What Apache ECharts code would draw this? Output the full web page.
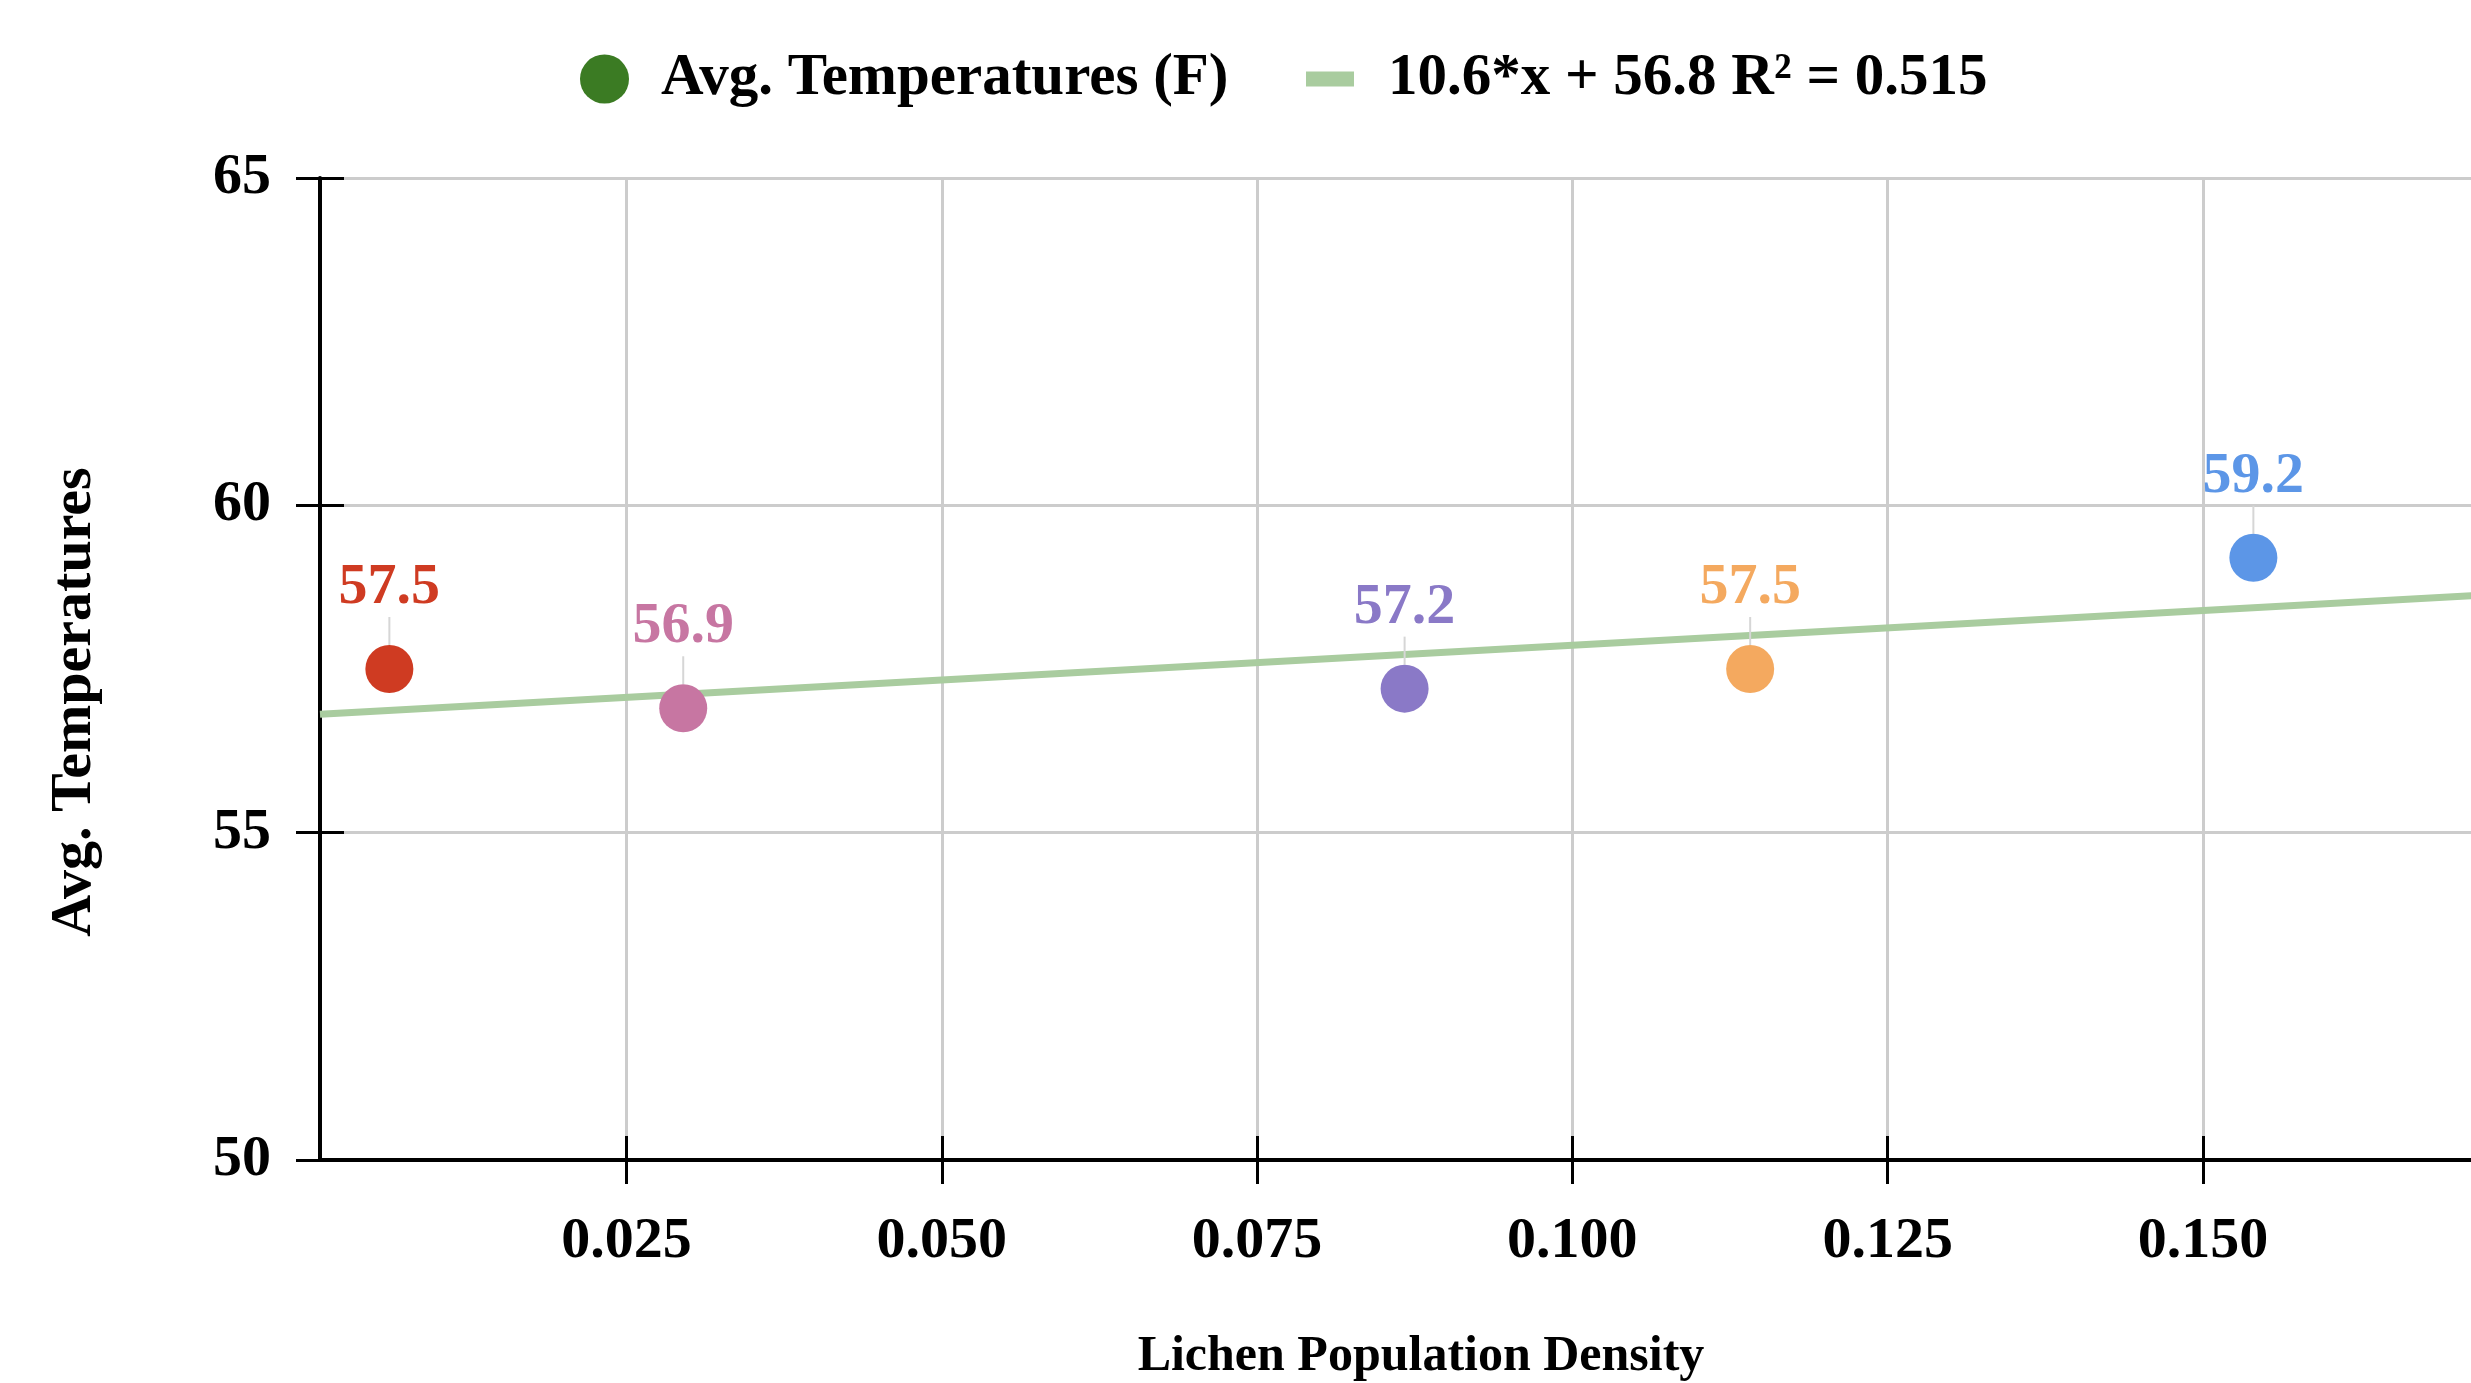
<!DOCTYPE html>
<html>
<head>
<meta charset="utf-8">
<title>Lichen density vs temperature</title>
<script src="https://cdn.jsdelivr.net/npm/echarts@6/dist/echarts.min.js"></script>
<style>
  html, body { margin: 0; padding: 0; background: #fff; }
  #main { width: 2471px; height: 1383px; }
</style>
</head>
<body>
<div id="main"></div>
<script>
// data
var densities = [0.0062, 0.0295, 0.0867, 0.1141, 0.1540];
var temps = [57.5, 56.9, 57.2, 57.5, 59.2];
var trendX = [0.0007, 0.1753];
var trendY = [56.81, 58.66];
var xTicks = [0.025, 0.050, 0.075, 0.100, 0.125, 0.150];

var pointColors = ['#cf3b22', '#c776a2', '#8a79c7', '#f4a95f', '#5c96e7'];
var serif = 'Liberation Serif';
var xMin = 0.0007, xMax = 0.1753;

var myChart = echarts.init(document.getElementById('main'));

var scatterData = densities.map(function (d, i) {
    return {
        value: [d, temps[i]],
        itemStyle: { color: pointColors[i] },
        label: { color: pointColors[i] }
    };
});

var tickLabelStyle = {
    fontFamily: serif,
    fontWeight: 'bold',
    fontSize: 58,
    color: '#000'
};

option = {
    animation: false,
    backgroundColor: '#fff',
    legend: [
        {
            left: 575,
            top: 44,
            itemWidth: 49,
            itemHeight: 49,
            icon: 'circle',
            selectedMode: false,
            data: ['Avg. Temperatures (F)'],
            textStyle: {
                fontFamily: serif, fontWeight: 'bold', fontSize: 59,
                lineHeight: 60, color: '#000', padding: [0, 0, 0, 27]
            }
        },
        {
            left: 1301,
            top: 44,
            itemWidth: 48,
            itemHeight: 15,
            icon: 'rect',
            selectedMode: false,
            data: ['10.6*x + 56.8 R\u00b2 = 0.515'],
            textStyle: {
                fontFamily: serif, fontWeight: 'bold', fontSize: 59,
                lineHeight: 60, color: '#000', padding: [0, 0, 0, 29]
            }
        }
    ],
    grid: {
        left: 320,
        top: 178,
        bottom: 223,
        right: -51,
        outerBoundsMode: 'none'
    },
    xAxis: [
        {
            type: 'value',
            min: xMin,
            max: xMax,
            name: 'Lichen Population Density',
            nameLocation: 'middle',
            nameGap: 172,
            nameTextStyle: { fontFamily: serif, fontWeight: 'bold', fontSize: 50, color: '#000' },
            axisLine: { show: true, lineStyle: { color: '#000', width: 4 } },
            axisTick: { show: true, length: 24, lineStyle: { color: '#000', width: 3 }, customValues: xTicks },
            axisLabel: Object.assign({
                margin: 53,
                customValues: xTicks,
                formatter: function (v) { return v.toFixed(3); }
            }, tickLabelStyle),
            splitLine: { show: true, lineStyle: { color: '#cccccc', width: 3 } }
        },
        {
            // second copy only to draw the inner half of the ticks
            type: 'value',
            position: 'bottom',
            offset: 0,
            min: xMin,
            max: xMax,
            axisLine: { show: false },
            axisTick: { show: true, inside: true, length: 24, lineStyle: { color: '#000', width: 3 }, customValues: xTicks },
            axisLabel: { show: false },
            splitLine: { show: false }
        }
    ],
    yAxis: [
        {
            type: 'value',
            min: 50,
            max: 65,
            interval: 5,
            name: 'Avg. Temperatures',
            nameLocation: 'middle',
            nameGap: 216,
            nameTextStyle: {
                fontFamily: serif, fontWeight: 'bold', fontSize: 58, color: '#000',
                padding: [0, 66, 0, 0]
            },
            axisLine: { show: true, lineStyle: { color: '#000', width: 4 } },
            axisTick: { show: true, length: 24, lineStyle: { color: '#000', width: 3 } },
            axisLabel: Object.assign({ margin: 49 }, tickLabelStyle),
            splitLine: { show: true, lineStyle: { color: '#cccccc', width: 3 } }
        },
        {
            type: 'value',
            position: 'left',
            offset: 0,
            min: 50,
            max: 65,
            interval: 5,
            axisLine: { show: false },
            axisTick: { show: true, inside: true, length: 24, lineStyle: { color: '#000', width: 3 } },
            axisLabel: { show: false },
            splitLine: { show: false }
        }
    ],
    series: [
        {
            name: '10.6*x + 56.8 R\u00b2 = 0.515',
            type: 'line',
            symbol: 'none',
            z: 2,
            itemStyle: { color: '#a9cc9f' },
            lineStyle: { color: '#a9cc9f', width: 7 },
            data: trendX.map(function (x, i) { return [x, trendY[i]]; })
        },
        {
            name: 'Avg. Temperatures (F)',
            type: 'scatter',
            symbol: 'circle',
            symbolSize: 48,
            z: 3,
            itemStyle: { color: '#3b7b23', opacity: 1 },
            label: {
                show: true,
                position: 'top',
                distance: 5,
                fontFamily: serif,
                fontWeight: 'bold',
                fontSize: 58,
                lineHeight: 40,
                formatter: function (p) { return p.value[1].toFixed(1); }
            },
            labelLayout: { dy: -32 },
            labelLine: { show: true, lineStyle: { color: '#d6d6d6', width: 2 } },
            data: scatterData
        }
    ]
};

myChart.setOption(option);
</script>
</body>
</html>
